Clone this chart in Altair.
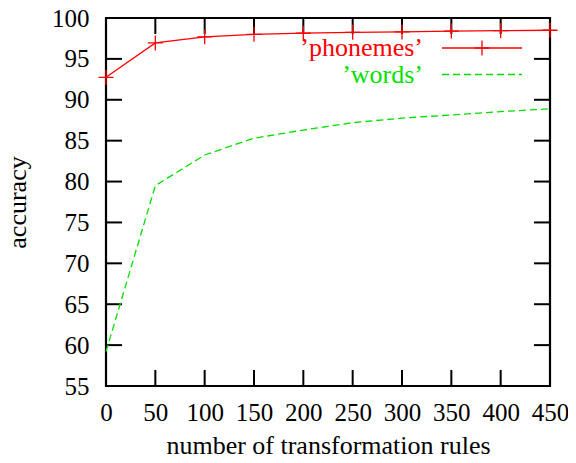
import altair as alt
import pandas as pd

# ---- data ----
rules_x = [0, 50, 100, 150, 200, 250, 300, 350, 400, 450]
phonemes = [92.75, 96.95, 97.7, 98.0, 98.15, 98.25, 98.3, 98.4, 98.45, 98.5]
words = [59.2, 79.5, 83.25, 85.3, 86.3, 87.2, 87.75, 88.15, 88.55, 88.9]
series_labels = ["\u2019phonemes\u2019", "\u2019words\u2019"]
x_ticks = [0, 50, 100, 150, 200, 250, 300, 350, 400, 450]
y_ticks = [55, 60, 65, 70, 75, 80, 85, 90, 95, 100]

W, H = 444, 368
FONT = "Liberation Serif"
RED = "#ff0000"
GREEN = "#00e000"
TICK = 16

df_p = pd.DataFrame({"rules": rules_x, "acc": phonemes})
df_w = pd.DataFrame({"rules": rules_x, "acc": words})
df_yt = pd.DataFrame({"acc": y_ticks})
df_xt = pd.DataFrame({"rules": x_ticks})

xs = alt.Scale(domain=[0, 450], nice=False, zero=False)
ys = alt.Scale(domain=[55, 100], nice=False, zero=False)

xaxis = alt.Axis(values=x_ticks, title="number of transformation rules", domain=False,
                 ticks=False, tickSize=0, grid=False, labelFont=FONT, labelFontSize=25,
                 labelPadding=14, labelColor="black", labelFlush=False,
                 titleFont=FONT, titleFontSize=26, titleFontWeight="normal",
                 titleColor="black", titlePadding=7)
yaxis = alt.Axis(values=y_ticks, title="accuracy", domain=False, ticks=False, tickSize=0,
                 grid=False, labelFont=FONT, labelFontSize=25, labelPadding=17,
                 labelColor="black", labelFlush=False,
                 titleFont=FONT, titleFontSize=26, titleFontWeight="normal",
                 titleColor="black", titlePadding=21)

X = alt.X("rules:Q", scale=xs, axis=xaxis)
Y = alt.Y("acc:Q", scale=ys, axis=yaxis)

plus = "M-1,0L1,0M0,-1L0,1"

phon_line = alt.Chart(df_p).mark_line(color=RED, strokeWidth=1.3).encode(x=X, y=Y)
phon_pts = alt.Chart(df_p).mark_point(shape=plus, size=225, stroke=RED, strokeWidth=1.3,
                                      filled=False, opacity=1).encode(x=X, y=Y)
words_line = alt.Chart(df_w).mark_line(color=GREEN, strokeWidth=1.3,
                                       strokeDash=[7, 4]).encode(x=X, y=Y)

ytick_l = alt.Chart(df_yt).mark_rule(color="black", strokeWidth=2).encode(
    y=Y, x=alt.value(0), x2=alt.value(TICK))
ytick_r = alt.Chart(df_yt).mark_rule(color="black", strokeWidth=2).encode(
    y=Y, x=alt.value(W - TICK), x2=alt.value(W))
xtick_b = alt.Chart(df_xt).mark_rule(color="black", strokeWidth=2).encode(
    x=X, y=alt.value(H), y2=alt.value(H - TICK))
xtick_t = alt.Chart(df_xt).mark_rule(color="black", strokeWidth=2).encode(
    x=X, y=alt.value(0), y2=alt.value(TICK))

# ---- gnuplot-style key (label left of sample) ----
leg_df = pd.DataFrame({"label": series_labels})
LX_TEXT, LX1, LX2 = 317, 336, 416
LY = [30, 56.5]

leg_t1 = alt.Chart(leg_df.iloc[[0]]).mark_text(font=FONT, fontSize=26, align="right",
                                              baseline="middle", color=RED).encode(
    text="label:N", x=alt.value(LX_TEXT), y=alt.value(LY[0]))
leg_t2 = alt.Chart(leg_df.iloc[[1]]).mark_text(font=FONT, fontSize=26, align="right",
                                              baseline="middle", color=GREEN).encode(
    text="label:N", x=alt.value(LX_TEXT), y=alt.value(LY[1]))
leg_l1 = alt.Chart(leg_df.iloc[[0]]).mark_rule(color=RED, strokeWidth=1.3).encode(
    x=alt.value(LX1), x2=alt.value(LX2), y=alt.value(LY[0]))
leg_p1 = alt.Chart(leg_df.iloc[[0]]).mark_point(shape=plus, size=225, stroke=RED,
                                               strokeWidth=1.3, filled=False, opacity=1).encode(
    x=alt.value((LX1 + LX2) / 2), y=alt.value(LY[0]))
leg_l2 = alt.Chart(leg_df.iloc[[1]]).mark_rule(color=GREEN, strokeWidth=1.3,
                                              strokeDash=[7, 4]).encode(
    x=alt.value(LX1), x2=alt.value(LX2), y=alt.value(LY[1]))

chart = alt.layer(
    ytick_l, ytick_r, xtick_b, xtick_t,
    words_line, phon_line, phon_pts,
    leg_t1, leg_t2, leg_l1, leg_p1, leg_l2,
).properties(
    width=W, height=H,
    autosize=alt.AutoSizeParams(type="none"),
    padding={"left": 98, "top": 10, "right": 18, "bottom": 69},
    background="white",
).configure_view(stroke="black", strokeWidth=2.2)

chart.save("out.html", embed_options={"renderer": "svg", "actions": False})
